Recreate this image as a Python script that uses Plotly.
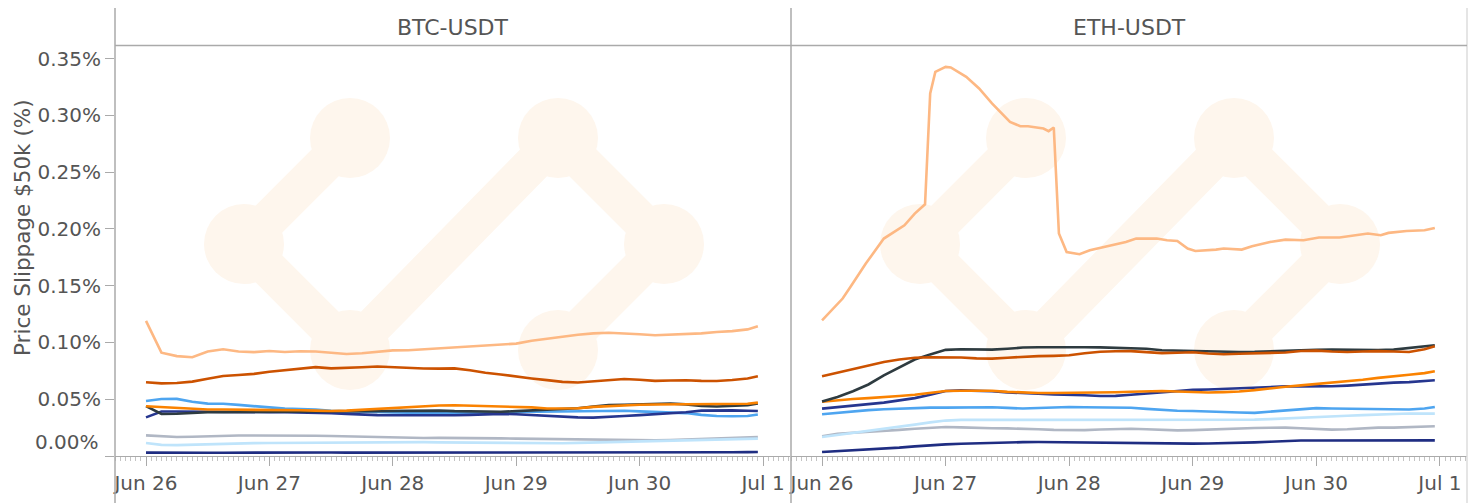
import plotly.graph_objects as go
from datetime import datetime, timedelta

# ---------------- data ----------------
BASE = datetime(2023, 6, 26)
hours_grid = list(range(0, 118, 3)) + [119]

btc_light_orange = [0.119,0.091,0.088,0.087,0.092,0.094,0.092,0.0915,0.0925,0.0916,0.0922,0.092,0.091,0.0898,0.0905,0.092,0.093,0.0932,0.094,0.0948,0.0955,0.096,0.097,0.098,0.099,0.1015,0.103,0.105,0.1068,0.108,0.1085,0.108,0.1073,0.1063,0.1068,0.1072,0.108,0.1092,0.110,0.1115,0.1143]
btc_dark_orange = [0.065,0.064,0.0643,0.0655,0.068,0.0705,0.0713,0.0723,0.0742,0.0756,0.077,0.0783,0.0772,0.0775,0.0782,0.0788,0.0782,0.0773,0.0771,0.077,0.0772,0.0755,0.0733,0.0718,0.0698,0.0683,0.0668,0.0653,0.0648,0.0656,0.0665,0.0678,0.0672,0.0662,0.0665,0.0667,0.0662,0.0661,0.067,0.0683,0.0702]
btc_blue = [0.0485,0.0502,0.0503,0.0478,0.0461,0.046,0.045,0.0437,0.0427,0.0417,0.0413,0.0409,0.0398,0.0393,0.0389,0.0386,0.0383,0.0382,0.0382,0.0383,0.0382,0.0381,0.0381,0.0379,0.0388,0.039,0.0388,0.039,0.0396,0.04,0.0402,0.0398,0.0393,0.0389,0.0385,0.0378,0.0362,0.0352,0.035,0.0352,0.0365]
btc_orange = [0.0438,0.0431,0.0418,0.0412,0.0409,0.0409,0.0409,0.0406,0.0403,0.0403,0.0403,0.0400,0.0396,0.0400,0.0407,0.0415,0.0424,0.0432,0.0440,0.0445,0.0447,0.0444,0.0440,0.0438,0.0435,0.0428,0.0418,0.0416,0.0420,0.0433,0.0440,0.0448,0.0452,0.0454,0.0455,0.0455,0.0455,0.0455,0.0456,0.0460,0.0470]
btc_dark = [0.0440,0.0370,0.0372,0.0380,0.0385,0.0385,0.0386,0.0388,0.0389,0.0390,0.0392,0.0393,0.0397,0.0398,0.0398,0.0397,0.0395,0.0398,0.0401,0.0400,0.0395,0.0392,0.0390,0.0390,0.0395,0.0400,0.0405,0.0410,0.0420,0.0435,0.0448,0.0452,0.0455,0.0460,0.0463,0.0455,0.0440,0.0436,0.0440,0.0447,0.0462]
btc_navy = [0.0340,0.0392,0.0392,0.0390,0.0388,0.0388,0.0387,0.0386,0.0386,0.0385,0.0384,0.0383,0.0376,0.0371,0.0364,0.0360,0.0359,0.0358,0.0360,0.0360,0.0359,0.0362,0.0368,0.0371,0.0368,0.0360,0.0352,0.0346,0.0340,0.0338,0.0342,0.0352,0.0360,0.0368,0.0375,0.0385,0.0400,0.0404,0.0402,0.0399,0.0396]
btc_gray = [0.0182,0.0172,0.0167,0.0170,0.0175,0.0178,0.0180,0.0181,0.0182,0.0182,0.0181,0.0179,0.0176,0.0173,0.0170,0.0166,0.0162,0.0160,0.0159,0.0160,0.0160,0.0159,0.0157,0.0155,0.0153,0.0151,0.0147,0.0146,0.0145,0.0143,0.0141,0.0140,0.0139,0.0139,0.0141,0.0145,0.0150,0.0154,0.0157,0.0161,0.0167]
btc_light_blue = [0.0115,0.0098,0.0096,0.0100,0.0106,0.0109,0.0111,0.0113,0.0115,0.0116,0.0118,0.0120,0.0122,0.0123,0.0124,0.0124,0.0124,0.0123,0.0122,0.0120,0.0119,0.0118,0.0116,0.0115,0.0113,0.0111,0.0110,0.0112,0.0116,0.0119,0.0122,0.0125,0.0127,0.0129,0.0131,0.0133,0.0136,0.0139,0.0143,0.0148,0.0153]
btc_bottom = [0.0030,0.0028,0.0027,0.0027,0.0028,0.0029,0.0030,0.0030,0.0031,0.0031,0.0031,0.0031,0.0031,0.0030,0.0030,0.0030,0.0029,0.0029,0.0029,0.0028,0.0028,0.0028,0.0028,0.0027,0.0027,0.0027,0.0028,0.0028,0.0028,0.0029,0.0029,0.0029,0.0030,0.0030,0.0031,0.0031,0.0032,0.0032,0.0033,0.0034,0.0035]

eth_top_hours = [0,4,5.5,8.5,12,14.5,16,18,20,21,22,24,25,28,30.5,33,36.5,38.5,40,43,44,45,46,47.5,50,52,55.5,59,61,65,67,69,71,72.5,76.5,78,81.5,83.5,87,90,93.5,96.5,100.5,102.5,106,108.5,110,113.5,117,119]
eth_light_orange = [0.1195,0.1387,0.1489,0.1695,0.1915,0.1988,0.2032,0.2135,0.2217,0.3193,0.3383,0.3427,0.3422,0.3339,0.3237,0.3105,0.2943,0.2905,0.2905,0.2884,0.2861,0.2893,0.1959,0.1797,0.1777,0.1812,0.1847,0.1885,0.1915,0.1915,0.19,0.1894,0.1827,0.1806,0.1818,0.1827,0.1818,0.1847,0.1885,0.1906,0.19,0.1924,0.1924,0.1935,0.1959,0.1944,0.1965,0.1982,0.1988,0.2009]
eth_dark = [0.048,0.052,0.057,0.063,0.071,0.078,0.085,0.0895,0.0935,0.094,0.094,0.0937,0.0945,0.0955,0.0958,0.096,0.096,0.0958,0.0957,0.0955,0.0953,0.0945,0.0932,0.0928,0.0925,0.092,0.0917,0.0916,0.0917,0.0922,0.093,0.0935,0.0936,0.0937,0.0934,0.0931,0.0933,0.0937,0.095,0.0962,0.0975]
eth_dark_orange = [0.0702,0.0735,0.0768,0.08,0.0828,0.085,0.0866,0.087,0.0872,0.0868,0.086,0.0858,0.0866,0.0876,0.088,0.0882,0.0887,0.0905,0.0918,0.0922,0.0924,0.0915,0.0906,0.091,0.0914,0.0903,0.0896,0.09,0.0904,0.0906,0.0912,0.0925,0.0928,0.092,0.0916,0.092,0.0924,0.092,0.0916,0.094,0.0966]
eth_orange = [0.0478,0.0492,0.0502,0.051,0.0516,0.0528,0.054,0.0556,0.0572,0.0575,0.0578,0.0575,0.0565,0.0557,0.0555,0.0555,0.0556,0.0556,0.0558,0.0562,0.0566,0.057,0.0573,0.0568,0.0562,0.0559,0.0563,0.0568,0.058,0.0598,0.061,0.0622,0.0634,0.0645,0.066,0.0672,0.0688,0.0705,0.0716,0.073,0.0746]
eth_navy = [0.0417,0.043,0.044,0.0455,0.047,0.049,0.051,0.054,0.0572,0.0578,0.0575,0.057,0.056,0.0552,0.0548,0.0543,0.0541,0.0535,0.0528,0.053,0.054,0.0552,0.0563,0.0573,0.0582,0.0586,0.0592,0.0597,0.0606,0.061,0.0613,0.0613,0.0613,0.0614,0.062,0.063,0.0641,0.0646,0.0651,0.0658,0.0667]
eth_blue = [0.0367,0.038,0.0392,0.0404,0.0412,0.0418,0.0424,0.0426,0.0426,0.0427,0.043,0.043,0.0424,0.0418,0.0423,0.0428,0.0432,0.043,0.043,0.0428,0.0425,0.0415,0.0405,0.0398,0.0396,0.039,0.0385,0.0383,0.038,0.0392,0.0403,0.0415,0.0422,0.0418,0.0415,0.0414,0.0412,0.041,0.0409,0.0418,0.0432]
eth_light_blue = [0.0167,0.0185,0.02,0.0216,0.0234,0.0254,0.0276,0.0296,0.0312,0.0318,0.0318,0.0317,0.0316,0.0315,0.0314,0.0314,0.0315,0.0316,0.0316,0.0316,0.0316,0.0316,0.0316,0.0316,0.0315,0.0315,0.0316,0.0318,0.032,0.0325,0.0332,0.0338,0.0342,0.0348,0.0354,0.036,0.0366,0.0372,0.0374,0.0373,0.0373]
eth_gray = [0.0174,0.0195,0.0205,0.0212,0.022,0.023,0.024,0.025,0.0256,0.0252,0.0246,0.0244,0.0243,0.0241,0.0236,0.023,0.0227,0.0228,0.0234,0.024,0.024,0.0236,0.023,0.0226,0.0228,0.0234,0.024,0.0244,0.0247,0.0249,0.025,0.0244,0.0236,0.0232,0.0236,0.0244,0.025,0.025,0.0253,0.0257,0.0262]
eth_bottom = [0.0035,0.0042,0.005,0.0056,0.0064,0.0074,0.0085,0.0095,0.0102,0.0108,0.0113,0.0116,0.0119,0.0122,0.0123,0.0121,0.0119,0.0117,0.0116,0.0114,0.0113,0.0112,0.011,0.0109,0.0109,0.011,0.0112,0.0115,0.012,0.0126,0.0132,0.0136,0.0137,0.0137,0.0137,0.0137,0.0137,0.0137,0.0137,0.0138,0.0138]

panels = ["BTC-USDT", "ETH-USDT"]
y_ticks = [0.0, 0.05, 0.10, 0.15, 0.20, 0.25, 0.30, 0.35]
y_title = "Price Slippage $50k (%)"

COLORS = {
    "light_orange": "#fdb883", "dark_orange": "#cc5200", "orange": "#fa8200",
    "dark": "#2e3b40", "navy": "#26368f", "blue": "#4ea5f0",
    "light_blue": "#bfe4fb", "gray": "#b0b7c4", "bottom": "#1f2d82",
}

# ---------------- figure geometry ----------------
# the page body has an 8px margin, so the figure is 8px smaller and all
# screen positions below are shifted by that offset
OFF = 8
W, H = 1476 - OFF, 503 - OFF
ML, MR, MT, MB = 115 - OFF, 9, 45 - OFF, 47
PW, PH = W - ML - MR, H - MT - MB


def px(xs):
    return (xs - OFF - ML) / PW


def py(ys):
    return (H - MB - (ys - OFF)) / PH


def ts(h):
    return BASE + timedelta(hours=h)


grid_t = [ts(h) for h in hours_grid]
eth_top_t = [ts(h) for h in eth_top_hours]

fig = go.Figure()

btc_series = [("gray", btc_gray), ("light_blue", btc_light_blue), ("bottom", btc_bottom),
              ("blue", btc_blue), ("navy", btc_navy), ("dark", btc_dark), ("orange", btc_orange),
              ("dark_orange", btc_dark_orange), ("light_orange", btc_light_orange)]
eth_series = [("gray", eth_gray), ("light_blue", eth_light_blue), ("bottom", eth_bottom),
              ("blue", eth_blue), ("navy", eth_navy), ("orange", eth_orange),
              ("dark", eth_dark), ("dark_orange", eth_dark_orange)]

LW = 2.6
for key, vals in btc_series:
    fig.add_trace(go.Scatter(x=grid_t, y=vals, mode="lines", xaxis="x", yaxis="y",
                             line=dict(color=COLORS[key], width=LW), name=key, showlegend=False))
for key, vals in eth_series:
    fig.add_trace(go.Scatter(x=grid_t, y=vals, mode="lines", xaxis="x2", yaxis="y2",
                             line=dict(color=COLORS[key], width=LW), name=key, showlegend=False))
fig.add_trace(go.Scatter(x=eth_top_t, y=eth_light_orange, mode="lines", xaxis="x2", yaxis="y2",
                         line=dict(color=COLORS["light_orange"], width=LW), name="light_orange",
                         showlegend=False))

x_range = [ts(-6.03), ts(125.25)]
FONT = "DejaVu Sans"
TXT = "#555555"
AX = "#aaaaaa"

xcommon = dict(range=x_range, type="date", tickformat="%b %-d", dtick=86400000, tick0=BASE,
               ticks="outside", ticklen=9, tickcolor=AX, showline=True, linecolor=AX,
               linewidth=1, showgrid=False, zeroline=False, automargin=False,
               tickfont=dict(family=FONT, size=20, color=TXT),
               minor=dict(dtick=3600000, ticklen=4, tickcolor="#c4c4c4", ticks="outside",
                          showgrid=False))

fig.update_layout(
    width=W, height=H, autosize=False,
    margin=dict(l=ML, r=MR, t=MT, b=MB, pad=0),
    paper_bgcolor="white", plot_bgcolor="rgba(0,0,0,0)",
    showlegend=False,
    xaxis=dict(domain=[0, 675 / PW], **xcommon),
    xaxis2=dict(domain=[676 / PW, 1], **xcommon),
    yaxis=dict(range=[0, 0.362], tickvals=y_ticks,
               ticktext=[""] + [f"{v:.2f}%" for v in y_ticks[1:]],
               ticks="outside", ticklen=9, tickcolor=AX, showline=False,
               showgrid=False, zeroline=False, automargin=False,
               tickfont=dict(family=FONT, size=20, color=TXT)),
    yaxis2=dict(range=[0, 0.362], anchor="x2", showticklabels=False, ticks="",
                showline=False, showgrid=False, zeroline=False),
)

shapes = []
# watermark logo (same relative placement in each panel)
WM = "#fef6ed"
nodes = {"TL": (235, 138), "L": (129, 244), "B": (235, 350),
         "TR": (443, 138), "R": (549, 244), "BR": (443, 350)}
path = ["TL", "L", "B", "TR", "R", "BR"]
for off in (115, 791):
    for a, b in zip(path[:-1], path[1:]):
        (x0, y0), (x1, y1) = nodes[a], nodes[b]
        shapes.append(dict(type="line", xref="paper", yref="paper", layer="below",
                           x0=px(off + x0), y0=py(y0), x1=px(off + x1), y1=py(y1),
                           line=dict(color=WM, width=38)))
    for n in path:
        cx, cy = nodes[n]
        r = 40
        shapes.append(dict(type="circle", xref="paper", yref="paper", layer="below",
                           x0=px(off + cx - r), x1=px(off + cx + r),
                           y0=py(cy + r), y1=py(cy - r),
                           fillcolor=WM, line=dict(width=0)))

# facet frame lines
for xpix, col in ((115, AX), (791, AX), (1467, "#dddddd")):
    shapes.append(dict(type="line", xref="paper", yref="paper",
                       x0=px(xpix), x1=px(xpix), y0=py(503), y1=py(8),
                       line=dict(color=col, width=1.5)))
shapes.append(dict(type="line", xref="paper", yref="paper", x0=px(115), x1=px(1467),
                   y0=py(45.5), y1=py(45.5), line=dict(color=AX, width=1.5)))
fig.update_layout(shapes=shapes)

annotations = [
    dict(text=panels[0], x=px((115 + 790) / 2), y=py(27), xref="paper", yref="paper",
         showarrow=False, xanchor="center", yanchor="middle",
         font=dict(family=FONT, size=22, color=TXT)),
    dict(text=panels[1], x=px((791 + 1467) / 2), y=py(27), xref="paper", yref="paper",
         showarrow=False, xanchor="center", yanchor="middle",
         font=dict(family=FONT, size=22, color=TXT)),
    dict(text=y_title, x=px(22), y=py(228), xref="paper", yref="paper", textangle=-90,
         showarrow=False, xanchor="center", yanchor="middle", borderpad=0,
         font=dict(family=FONT, size=21.5, color=TXT)),
    dict(text=f"{y_ticks[0]:.2f}%", x=px(101), y=py(442), xref="paper", yref="paper",
         showarrow=False, xanchor="right", yanchor="middle",
         font=dict(family=FONT, size=20, color=TXT)),
]
fig.update_layout(annotations=annotations)

fig.write_html("out.html")
